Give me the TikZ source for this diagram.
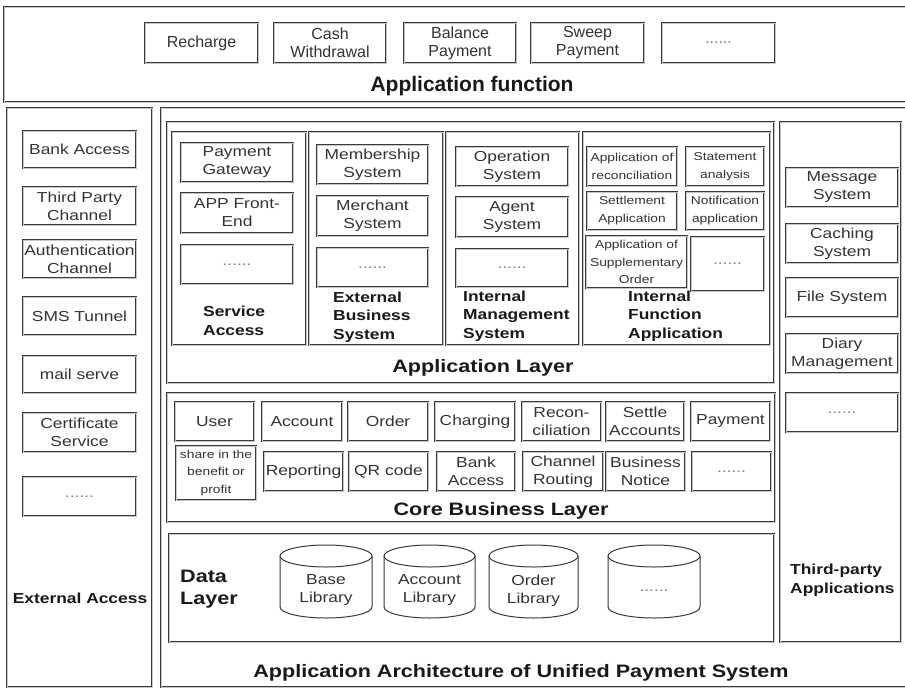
\documentclass[tikz,border=0pt]{standalone}
\usepackage{fontspec}
\setmainfont{Liberation Sans}
\newfontfamily\wfont[FakeStretch=1.2]{Liberation Sans}
\definecolor{ln}{HTML}{3A3A3A}
\definecolor{tx}{HTML}{333333}
\newcommand\mydots{{\color{gray}......}}
\newcommand\mybox[7][]{\node[box,#1,minimum width={(#5-#3)*1pt},minimum height={(#6-#4)*1pt}] (#2) at ({(#3+#5)/2},{(#4+#6)/2}) {#7};}
\newcommand\dbcyl[6]{%
  \pgfmathsetmacro\cx{(#2+#3)/2}\pgfmathsetmacro\rx{(#3-#2)/2}%
  \draw[cylline] (#2,#4+11) -- (#2,#5-11) arc[start angle=180,end angle=0,x radius=\rx,y radius=11] -- (#3,#4+11);
  \draw[cylline] (\cx,#4+11) ellipse[x radius=\rx,y radius=11];
  \node[bodyf,align=center,inner sep=0pt,text=tx] (#1) at (\cx,{(#4+#5)/2+9}) {#6};}
\tikzset{
  dbl/.style={draw=ln, line width=0.6pt, double=gray!45, double distance=0.7pt},
  box/.style={dbl, rectangle, inner sep=0pt, align=center, text=tx},
  topf/.style={font=\fontsize{16}{18}\selectfont},
  bodyf/.style={font=\wfont\fontsize{14.5}{18}\selectfont},
  smallf/.style={font=\wfont\fontsize{11.5}{18}\selectfont},
  sublbl/.style={font=\wfont\bfseries\fontsize{14.5}{18.5}\selectfont, align=left, anchor=west, inner sep=0pt, text=black!90},
  title/.style={font=\wfont\bfseries\fontsize{18}{22}\selectfont, inner sep=0pt, text=black!90, align=left},
  cylline/.style={draw=ln, line width=1pt},
}
\begin{document}
\begin{tikzpicture}[x=1pt,y=-1pt]
\useasboundingbox (0,0) rectangle (905,689);
\fill[white] (0,0) rectangle (905,689);
% ---------- top panel ----------
\mybox{topP}{4}{7}{908}{102}{}
\mybox[topf]{recharge}{145}{23}{258}{63}{Recharge}
\mybox[topf]{cash}{274}{23}{386}{63}{Cash\\Withdrawal}
\mybox[topf]{balance}{404}{23}{516}{63}{Balance\\Payment}
\mybox[topf]{sweep}{531}{23}{644}{63}{Sweep\\Payment}
\mybox[topf]{tdots}{662}{23}{775}{63}{\mydots}
\node[font=\bfseries\fontsize{21}{24}\selectfont, inner sep=0pt, text=black!90] (appfun) at (472,86) {Application function};
% ---------- external access ----------
\mybox{extP}{7}{108}{152}{687}{}
\mybox[bodyf]{bank}{23}{131}{136}{168}{Bank Access}
\mybox[bodyf]{third}{23}{187}{136}{225}{Third Party\\Channel}
\mybox[bodyf]{auth}{23}{240}{136}{278}{Authentication\\Channel}
\mybox[bodyf]{sms}{23}{297}{136}{335}{SMS Tunnel}
\mybox[bodyf]{mail}{23}{356}{136}{393}{mail serve}
\mybox[bodyf]{cert}{23}{413}{136}{452}{Certificate\\Service}
\mybox[bodyf]{edots}{23}{477}{136}{516}{\mydots}
\node[sublbl, anchor=center] (extlbl) at (80,598) {External Access};
% ---------- main panel ----------
\mybox{mainP}{161}{108}{908}{687}{}
% application layer
\mybox{appP}{167}{122}{774}{383}{}
\mybox{saP}{172}{132}{306}{345}{}
\mybox{ebsP}{309}{132}{443}{345}{}
\mybox{imsP}{446}{132}{579}{345}{}
\mybox{ifaP}{583}{132}{770}{345}{}
\mybox[bodyf]{pg}{181}{143}{293}{182}{Payment\\Gateway}
\mybox[bodyf]{appfe}{181}{193}{293}{233}{APP Front-\\End}
\mybox[bodyf]{sadots}{181}{245}{293}{284}{\mydots}
\mybox[bodyf]{mem}{317}{145}{428}{184}{Membership\\System}
\mybox[bodyf]{mer}{317}{196}{428}{236}{Merchant\\System}
\mybox[bodyf]{ebdots}{317}{248}{428}{287}{\mydots}
\mybox[bodyf]{op}{456}{147}{568}{186}{Operation\\System}
\mybox[bodyf]{ag}{456}{197}{568}{237}{Agent\\System}
\mybox[bodyf]{imdots}{456}{249}{568}{287}{\mydots}
\mybox[smallf]{rec}{587}{147}{677}{186}{Application of\\reconciliation}
\mybox[smallf]{stat}{686}{147}{764}{186}{Statement\\analysis}
\mybox[smallf]{setl}{587}{192}{677}{230}{Settlement\\Application}
\mybox[smallf]{noti}{686}{192}{764}{230}{Notification\\application}
\mybox[smallf, font=\wfont\fontsize{11.5}{17.5}\selectfont]{supp}{586}{236}{687}{288}{Application of\\Supplementary\\Order}
\mybox[bodyf]{ifdots}{691}{237}{764}{291}{\mydots}
\node[sublbl] (salbl) at (203,321) {Service\\Access};
\node[sublbl] (ebslbl) at (333,317) {External\\Business\\System};
\node[sublbl] (imslbl) at (463,316) {Internal\\Management\\System};
\node[sublbl] (ifalbl) at (628,316) {Internal\\Function\\Application};
\node[title] (applbl) at (483,368) {Application Layer};
% core business layer
\mybox{coreP}{167}{393}{775}{522}{}
\mybox[bodyf]{user}{175}{402}{254}{441}{User}
\mybox[bodyf]{acct}{262}{402}{342}{441}{Account}
\mybox[bodyf]{order}{348}{402}{428}{441}{Order}
\mybox[bodyf]{charg}{435}{402}{515}{441}{Charging}
\mybox[bodyf]{recon}{522}{402}{601}{441}{Recon-\\ciliation}
\mybox[bodyf]{settle}{606}{402}{684}{441}{Settle\\Accounts}
\mybox[bodyf]{pay}{691}{402}{770}{441}{Payment}
\mybox[smallf, font=\wfont\fontsize{11.5}{17.5}\selectfont]{share}{176}{446}{256}{500}{share in the\\benefit or\\profit}
\mybox[bodyf]{rep}{264}{452}{343}{491}{Reporting}
\mybox[bodyf]{qr}{349}{452}{428}{491}{QR code}
\mybox[bodyf]{bank2}{437}{452}{515}{491}{Bank\\Access}
\mybox[bodyf]{chan}{523}{452}{603}{491}{Channel\\Routing}
\mybox[bodyf]{bnot}{606}{452}{685}{491}{Business\\Notice}
\mybox[bodyf]{cdots}{692}{452}{771}{491}{\mydots}
\node[title] (corelbl) at (501,511) {Core Business Layer};
% data layer
\mybox{dataP}{169}{534}{774}{642}{}
\node[title, anchor=west] (datalbl) at (180,589) {Data\\Layer};
\dbcyl{base}{280}{372}{545}{618}{Base\\Library}
\dbcyl{accl}{384}{475}{545}{618}{Account\\Library}
\dbcyl{ordl}{489}{578}{545}{618}{Order\\Library}
\dbcyl{ddots}{608}{700}{545}{618}{\mydots}
\node[title] (mainlbl) at (521,673) {Application Architecture of Unified Payment System};
% third-party applications
\mybox{tpP}{780}{122}{901}{642}{}
\mybox[bodyf]{msg}{786}{168}{898}{207}{Message\\System}
\mybox[bodyf]{cach}{786}{224}{898}{263}{Caching\\System}
\mybox[bodyf]{file}{786}{278}{898}{317}{File System}
\mybox[bodyf]{diary}{786}{334}{898}{373}{Diary\\Management}
\mybox[bodyf]{tpdots}{786}{393}{898}{432}{\mydots}
\node[sublbl] (tplbl) at (790,580) {Third-party\\Applications};
\end{tikzpicture}
\end{document}
